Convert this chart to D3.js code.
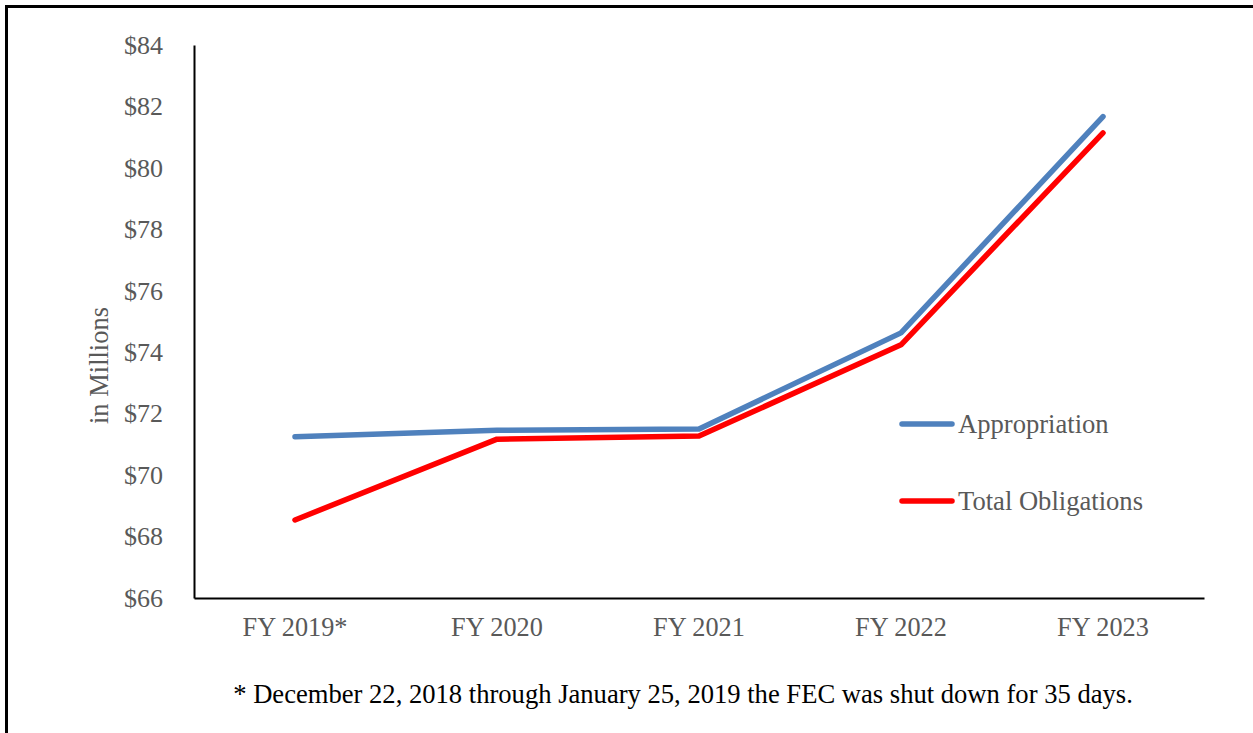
<!DOCTYPE html>
<html>
<head>
<meta charset="utf-8">
<script src="https://cdn.jsdelivr.net/npm/d3@7/dist/d3.min.js"></script>
<style>
  html, body { margin: 0; padding: 0; background: #fff; }
  svg { display: block; }
  text { font-family: "Liberation Serif", "Times New Roman", serif; }
</style>
</head>
<body>
<svg id="chart" width="1253" height="733"></svg>
<script>
const categories = ["FY 2019*", "FY 2020", "FY 2021", "FY 2022", "FY 2023"];
const appropriation = [71.25, 71.46, 71.5, 74.63, 81.67];
const obligations = [68.54, 71.17, 71.27, 74.24, 81.14];
const yTicks = [66, 68, 70, 72, 74, 76, 78, 80, 82, 84];
const seriesNames = ["Appropriation", "Total Obligations"];
const seriesColors = ["#4F81BD", "#FF0000"];
const footnote = "* December 22, 2018 through January 25, 2019 the FEC was shut down for 35 days.";
const yTitle = "in Millions";

(function () {
const svg = d3.select("#chart");
const W = 1253, H = 733;

// outer border
svg.append("rect")
  .attr("x", 6.5).attr("y", 6.5)
  .attr("width", W + 20).attr("height", H + 20)
  .attr("fill", "none").attr("stroke", "#000").attr("stroke-width", 3);

const mLeft = 194, mRight = 1204, mTop = 45, mBottom = 598;

const x = d3.scaleBand().domain(categories).range([mLeft, mRight]).padding(0);
const y = d3.scaleLinear().domain([66, 84]).range([mBottom, mTop]);

// y axis
const yAxis = d3.axisLeft(y).tickValues(yTicks).tickSize(0).tickPadding(31)
  .tickFormat(d => "$" + d);
const gy = svg.append("g").attr("transform", `translate(${mLeft},0)`).call(yAxis);
gy.select(".domain").attr("stroke", "#000").attr("stroke-width", 2);
gy.selectAll("text").attr("fill", "#595959").attr("font-size", 26)
  .style("font-family", '"Liberation Serif", serif');

// x axis
const xAxis = d3.axisBottom(x).tickSize(0).tickPadding(19);
const gx = svg.append("g").attr("transform", `translate(0,${mBottom})`).call(xAxis);
gx.select(".domain").attr("stroke", "#000").attr("stroke-width", 2);
gx.selectAll("text").attr("fill", "#595959").attr("font-size", 26.3)
  .style("font-family", '"Liberation Serif", serif');

// y title
svg.append("text")
  .attr("transform", `translate(108,${(mTop + mBottom) / 2 + 44}) rotate(-90)`)
  .attr("text-anchor", "middle")
  .attr("fill", "#595959").attr("font-size", 26.5)
  .text(yTitle);

// lines
const line = d3.line()
  .x((d, i) => x(categories[i]) + x.bandwidth() / 2)
  .y(d => y(d));

[appropriation, obligations].forEach((vals, k) => {
  svg.append("path")
    .datum(vals)
    .attr("d", line)
    .attr("fill", "none")
    .attr("stroke", seriesColors[k])
    .attr("stroke-width", 5.5)
    .attr("stroke-linecap", "round")
    .attr("stroke-linejoin", "round");
});

// legend
const legendY = [424, 501];
seriesNames.forEach((name, k) => {
  svg.append("line")
    .attr("x1", 902).attr("x2", 952)
    .attr("y1", legendY[k]).attr("y2", legendY[k])
    .attr("stroke", seriesColors[k]).attr("stroke-width", 5.5)
    .attr("stroke-linecap", "round");
  svg.append("text")
    .attr("x", 958).attr("y", legendY[k])
    .attr("dy", "0.32em")
    .attr("fill", "#595959").attr("font-size", 26.6)
    .text(name);
});

// footnote
svg.append("text")
  .attr("x", 683).attr("y", 703)
  .attr("text-anchor", "middle")
  .attr("fill", "#000").attr("font-size", 26.6)
  .text(footnote);
})();
</script>
</body>
</html>
